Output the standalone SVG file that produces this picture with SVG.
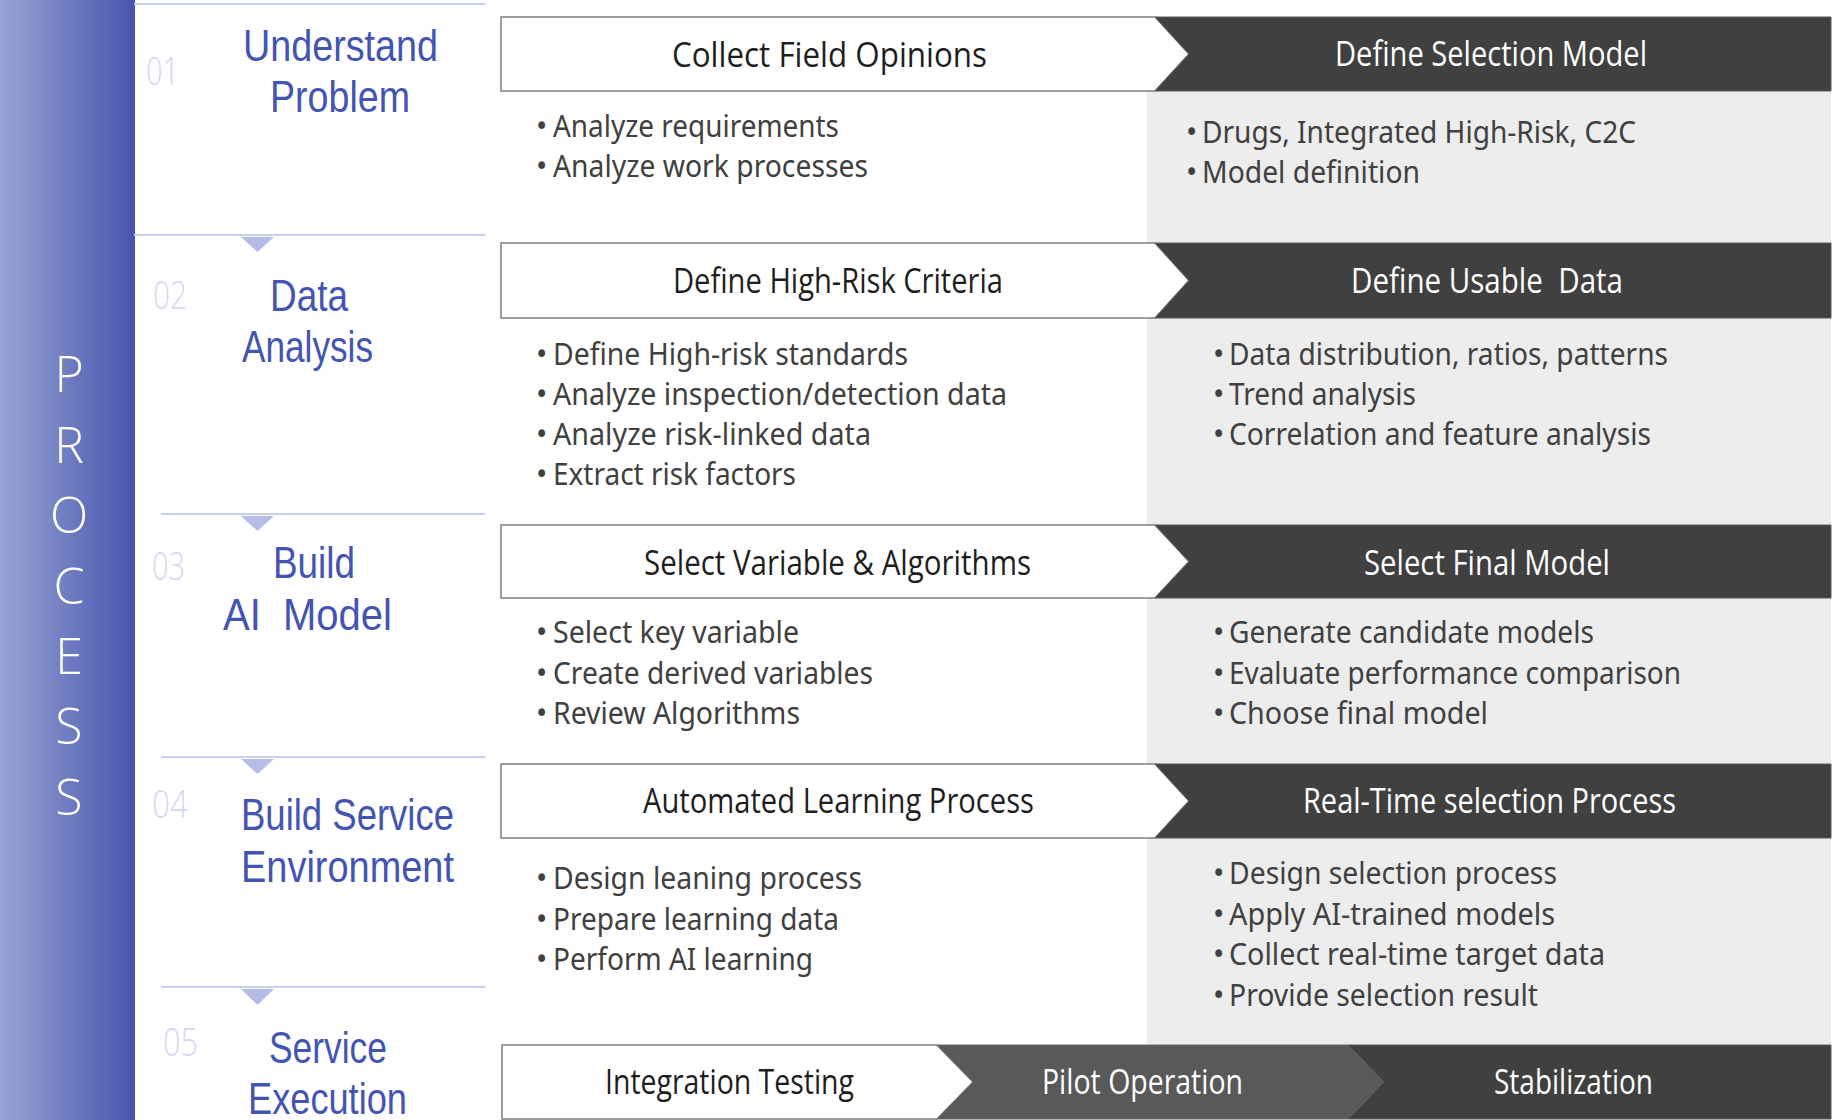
<svg xmlns="http://www.w3.org/2000/svg" width="1837" height="1120" viewBox="0 0 1837 1120">
<defs>
<linearGradient id="bandGrad" x1="0" y1="0" x2="1" y2="0">
<stop offset="0" stop-color="#9aa4d6"/>
<stop offset="1" stop-color="#4555ad"/>
</linearGradient>
</defs>
<style>
.band-letter{font-family:"Open Sans","Noto Sans","Liberation Sans",sans-serif;font-weight:300;font-size:50px;fill:#ffffff;text-anchor:middle}
.num{font-family:"Open Sans","Noto Sans","Liberation Sans",sans-serif;font-weight:300;font-size:39px;fill:#d3d9f1}
.step{font-family:"Liberation Sans","Noto Sans",sans-serif;font-size:45px;fill:#4354b2;white-space:pre}
.divider{stroke:#c8cef0;stroke-width:2;fill:none}
.tri{fill:#b4bce8}
.wbox{fill:#ffffff;stroke:#7f7f7f;stroke-width:1.5}
.dbox{fill:#404040;stroke:#5a5a5a;stroke-width:1}
.mbox{fill:#595959;stroke:#6a6a6a;stroke-width:1}
.ttl-d{font-family:"Open Sans","Noto Sans","Liberation Sans",sans-serif;font-weight:400;font-size:34px;fill:#1e1e1e;white-space:pre}
.ttl-w{font-family:"Open Sans","Noto Sans","Liberation Sans",sans-serif;font-weight:400;font-size:34px;fill:#ffffff;white-space:pre}
.bul{font-family:"Noto Sans","Open Sans","Liberation Sans",sans-serif;font-size:30px;fill:#404040}
</style>
<rect x="0" y="0" width="1837" height="1120" fill="#ffffff"/>

<g id="process-band">
<rect x="0" y="0" width="135" height="1120" fill="url(#bandGrad)"/>
<text class="band-letter" x="69" y="392">P</text>
<text class="band-letter" x="69" y="463">R</text>
<text class="band-letter" x="69" y="533">O</text>
<text class="band-letter" x="69" y="604">C</text>
<text class="band-letter" x="69" y="674">E</text>
<text class="band-letter" x="69" y="744">S</text>
<text class="band-letter" x="69" y="815">S</text>
</g>

<rect id="detail-panel" x="1147" y="91" width="684" height="954" fill="#ededed"/>

<g id="step-01">
<line class="divider" x1="134" y1="4" x2="485" y2="4"/>
<text class="num" x="146" y="85" textLength="33" lengthAdjust="spacingAndGlyphs">01</text>
<text class="step" x="243" y="61" textLength="195" lengthAdjust="spacingAndGlyphs">Understand</text>
<text class="step" x="270" y="112" textLength="140" lengthAdjust="spacingAndGlyphs">Problem</text>
</g>
<g id="step-02">
<line class="divider" x1="134" y1="235" x2="485" y2="235"/>
<text class="num" x="153" y="309" textLength="34" lengthAdjust="spacingAndGlyphs">02</text>
<text class="step" x="270" y="311" textLength="78" lengthAdjust="spacingAndGlyphs">Data</text>
<text class="step" x="242" y="362" textLength="131" lengthAdjust="spacingAndGlyphs">Analysis</text>
</g>
<g id="step-03">
<line class="divider" x1="161" y1="514" x2="485" y2="514"/>
<text class="num" x="152" y="580" textLength="33" lengthAdjust="spacingAndGlyphs">03</text>
<text class="step" x="273" y="578" textLength="82" lengthAdjust="spacingAndGlyphs">Build</text>
<text class="step" x="223" y="630" textLength="169" lengthAdjust="spacingAndGlyphs">AI  Model</text>
</g>
<g id="step-04">
<line class="divider" x1="161" y1="757" x2="485" y2="757"/>
<text class="num" x="152" y="818" textLength="36" lengthAdjust="spacingAndGlyphs">04</text>
<text class="step" x="241" y="830" textLength="213" lengthAdjust="spacingAndGlyphs">Build Service</text>
<text class="step" x="241" y="882" textLength="213" lengthAdjust="spacingAndGlyphs">Environment</text>
</g>
<g id="step-05">
<line class="divider" x1="161" y1="987" x2="485" y2="987"/>
<text class="num" x="163" y="1056" textLength="35" lengthAdjust="spacingAndGlyphs">05</text>
<text class="step" x="269" y="1063" textLength="118" lengthAdjust="spacingAndGlyphs">Service</text>
<text class="step" x="248" y="1114" textLength="159" lengthAdjust="spacingAndGlyphs">Execution</text>
</g>

<g id="connectors">
<polygon class="tri" points="241,237 274,237 257.5,252"/>
<polygon class="tri" points="241,516 274,516 257.5,531"/>
<polygon class="tri" points="241,759 274,759 257.5,774"/>
<polygon class="tri" points="241,989 274,989 257.5,1005"/>
</g>

<g id="row-1">
<polygon class="wbox" points="501,17 1155,17 1189,54 1155,91 501,91"/>
<polygon class="dbox" points="1155,17 1831,17 1831,91 1155,91 1189,54"/>
<text class="ttl-d" x="672" y="67" textLength="315" lengthAdjust="spacingAndGlyphs">Collect Field Opinions</text>
<text class="ttl-w" x="1335" y="66" textLength="312" lengthAdjust="spacingAndGlyphs">Define Selection Model</text>
<text class="bul" y="137"><tspan x="536">•</tspan><tspan x="553" textLength="286" lengthAdjust="spacingAndGlyphs">Analyze requirements</tspan></text>
<text class="bul" y="177"><tspan x="536">•</tspan><tspan x="553" textLength="315" lengthAdjust="spacingAndGlyphs">Analyze work processes</tspan></text>
<text class="bul" y="143"><tspan x="1186">•</tspan><tspan x="1202" textLength="434" lengthAdjust="spacingAndGlyphs">Drugs, Integrated High-Risk, C2C</tspan></text>
<text class="bul" y="183"><tspan x="1186">•</tspan><tspan x="1202" textLength="218" lengthAdjust="spacingAndGlyphs">Model definition</tspan></text>
</g>

<g id="row-2">
<polygon class="wbox" points="501,243 1155,243 1189,280.5 1155,318 501,318"/>
<polygon class="dbox" points="1155,243 1831,243 1831,318 1155,318 1189,280.5"/>
<text class="ttl-d" x="673" y="293" textLength="330" lengthAdjust="spacingAndGlyphs">Define High-Risk Criteria</text>
<text class="ttl-w" x="1351" y="293" textLength="272" lengthAdjust="spacingAndGlyphs">Define Usable  Data</text>
<text class="bul" y="365"><tspan x="536">•</tspan><tspan x="553" textLength="355" lengthAdjust="spacingAndGlyphs">Define High-risk standards</tspan></text>
<text class="bul" y="405"><tspan x="536">•</tspan><tspan x="553" textLength="454" lengthAdjust="spacingAndGlyphs">Analyze inspection/detection data</tspan></text>
<text class="bul" y="445"><tspan x="536">•</tspan><tspan x="553" textLength="318" lengthAdjust="spacingAndGlyphs">Analyze risk-linked data</tspan></text>
<text class="bul" y="485"><tspan x="536">•</tspan><tspan x="553" textLength="243" lengthAdjust="spacingAndGlyphs">Extract risk factors</tspan></text>
<text class="bul" y="365"><tspan x="1213">•</tspan><tspan x="1229" textLength="439" lengthAdjust="spacingAndGlyphs">Data distribution, ratios, patterns</tspan></text>
<text class="bul" y="405"><tspan x="1213">•</tspan><tspan x="1229" textLength="187" lengthAdjust="spacingAndGlyphs">Trend analysis</tspan></text>
<text class="bul" y="445"><tspan x="1213">•</tspan><tspan x="1229" textLength="422" lengthAdjust="spacingAndGlyphs">Correlation and feature analysis</tspan></text>
</g>

<g id="row-3">
<polygon class="wbox" points="501,525 1155,525 1189,561.5 1155,598 501,598"/>
<polygon class="dbox" points="1155,525 1831,525 1831,598 1155,598 1189,561.5"/>
<text class="ttl-d" x="644" y="575" textLength="387" lengthAdjust="spacingAndGlyphs">Select Variable &amp; Algorithms</text>
<text class="ttl-w" x="1364" y="575" textLength="246" lengthAdjust="spacingAndGlyphs">Select Final Model</text>
<text class="bul" y="643"><tspan x="536">•</tspan><tspan x="553" textLength="246" lengthAdjust="spacingAndGlyphs">Select key variable</tspan></text>
<text class="bul" y="684"><tspan x="536">•</tspan><tspan x="553" textLength="320" lengthAdjust="spacingAndGlyphs">Create derived variables</tspan></text>
<text class="bul" y="724"><tspan x="536">•</tspan><tspan x="553" textLength="247" lengthAdjust="spacingAndGlyphs">Review Algorithms</tspan></text>
<text class="bul" y="643"><tspan x="1213">•</tspan><tspan x="1229" textLength="365" lengthAdjust="spacingAndGlyphs">Generate candidate models</tspan></text>
<text class="bul" y="684"><tspan x="1213">•</tspan><tspan x="1229" textLength="452" lengthAdjust="spacingAndGlyphs">Evaluate performance comparison</tspan></text>
<text class="bul" y="724"><tspan x="1213">•</tspan><tspan x="1229" textLength="259" lengthAdjust="spacingAndGlyphs">Choose final model</tspan></text>
</g>

<g id="row-4">
<polygon class="wbox" points="501,764 1155,764 1189,801 1155,838 501,838"/>
<polygon class="dbox" points="1155,764 1831,764 1831,838 1155,838 1189,801"/>
<text class="ttl-d" x="643" y="813" textLength="391" lengthAdjust="spacingAndGlyphs">Automated Learning Process</text>
<text class="ttl-w" x="1303" y="813" textLength="373" lengthAdjust="spacingAndGlyphs">Real-Time selection Process</text>
<text class="bul" y="889"><tspan x="536">•</tspan><tspan x="553" textLength="309" lengthAdjust="spacingAndGlyphs">Design leaning process</tspan></text>
<text class="bul" y="930"><tspan x="536">•</tspan><tspan x="553" textLength="286" lengthAdjust="spacingAndGlyphs">Prepare learning data</tspan></text>
<text class="bul" y="970"><tspan x="536">•</tspan><tspan x="553" textLength="260" lengthAdjust="spacingAndGlyphs">Perform AI learning</tspan></text>
<text class="bul" y="884"><tspan x="1213">•</tspan><tspan x="1229" textLength="328" lengthAdjust="spacingAndGlyphs">Design selection process</tspan></text>
<text class="bul" y="925"><tspan x="1213">•</tspan><tspan x="1229" textLength="326" lengthAdjust="spacingAndGlyphs">Apply AI-trained models</tspan></text>
<text class="bul" y="965"><tspan x="1213">•</tspan><tspan x="1229" textLength="376" lengthAdjust="spacingAndGlyphs">Collect real-time target data</tspan></text>
<text class="bul" y="1006"><tspan x="1213">•</tspan><tspan x="1229" textLength="309" lengthAdjust="spacingAndGlyphs">Provide selection result</tspan></text>
</g>

<g id="row-5">
<polygon class="wbox" points="502,1045 937,1045 973,1082 937,1119 502,1119"/>
<polygon class="mbox" points="937,1045 1348,1045 1384,1082 1348,1119 937,1119 973,1082"/>
<polygon class="dbox" points="1348,1045 1831,1045 1831,1119 1348,1119 1384,1082"/>
<text class="ttl-d" x="605" y="1094" textLength="249" lengthAdjust="spacingAndGlyphs">Integration Testing</text>
<text class="ttl-w" x="1042" y="1094" textLength="201" lengthAdjust="spacingAndGlyphs">Pilot Operation</text>
<text class="ttl-w" x="1494" y="1094" textLength="159" lengthAdjust="spacingAndGlyphs">Stabilization</text>
</g>
</svg>
